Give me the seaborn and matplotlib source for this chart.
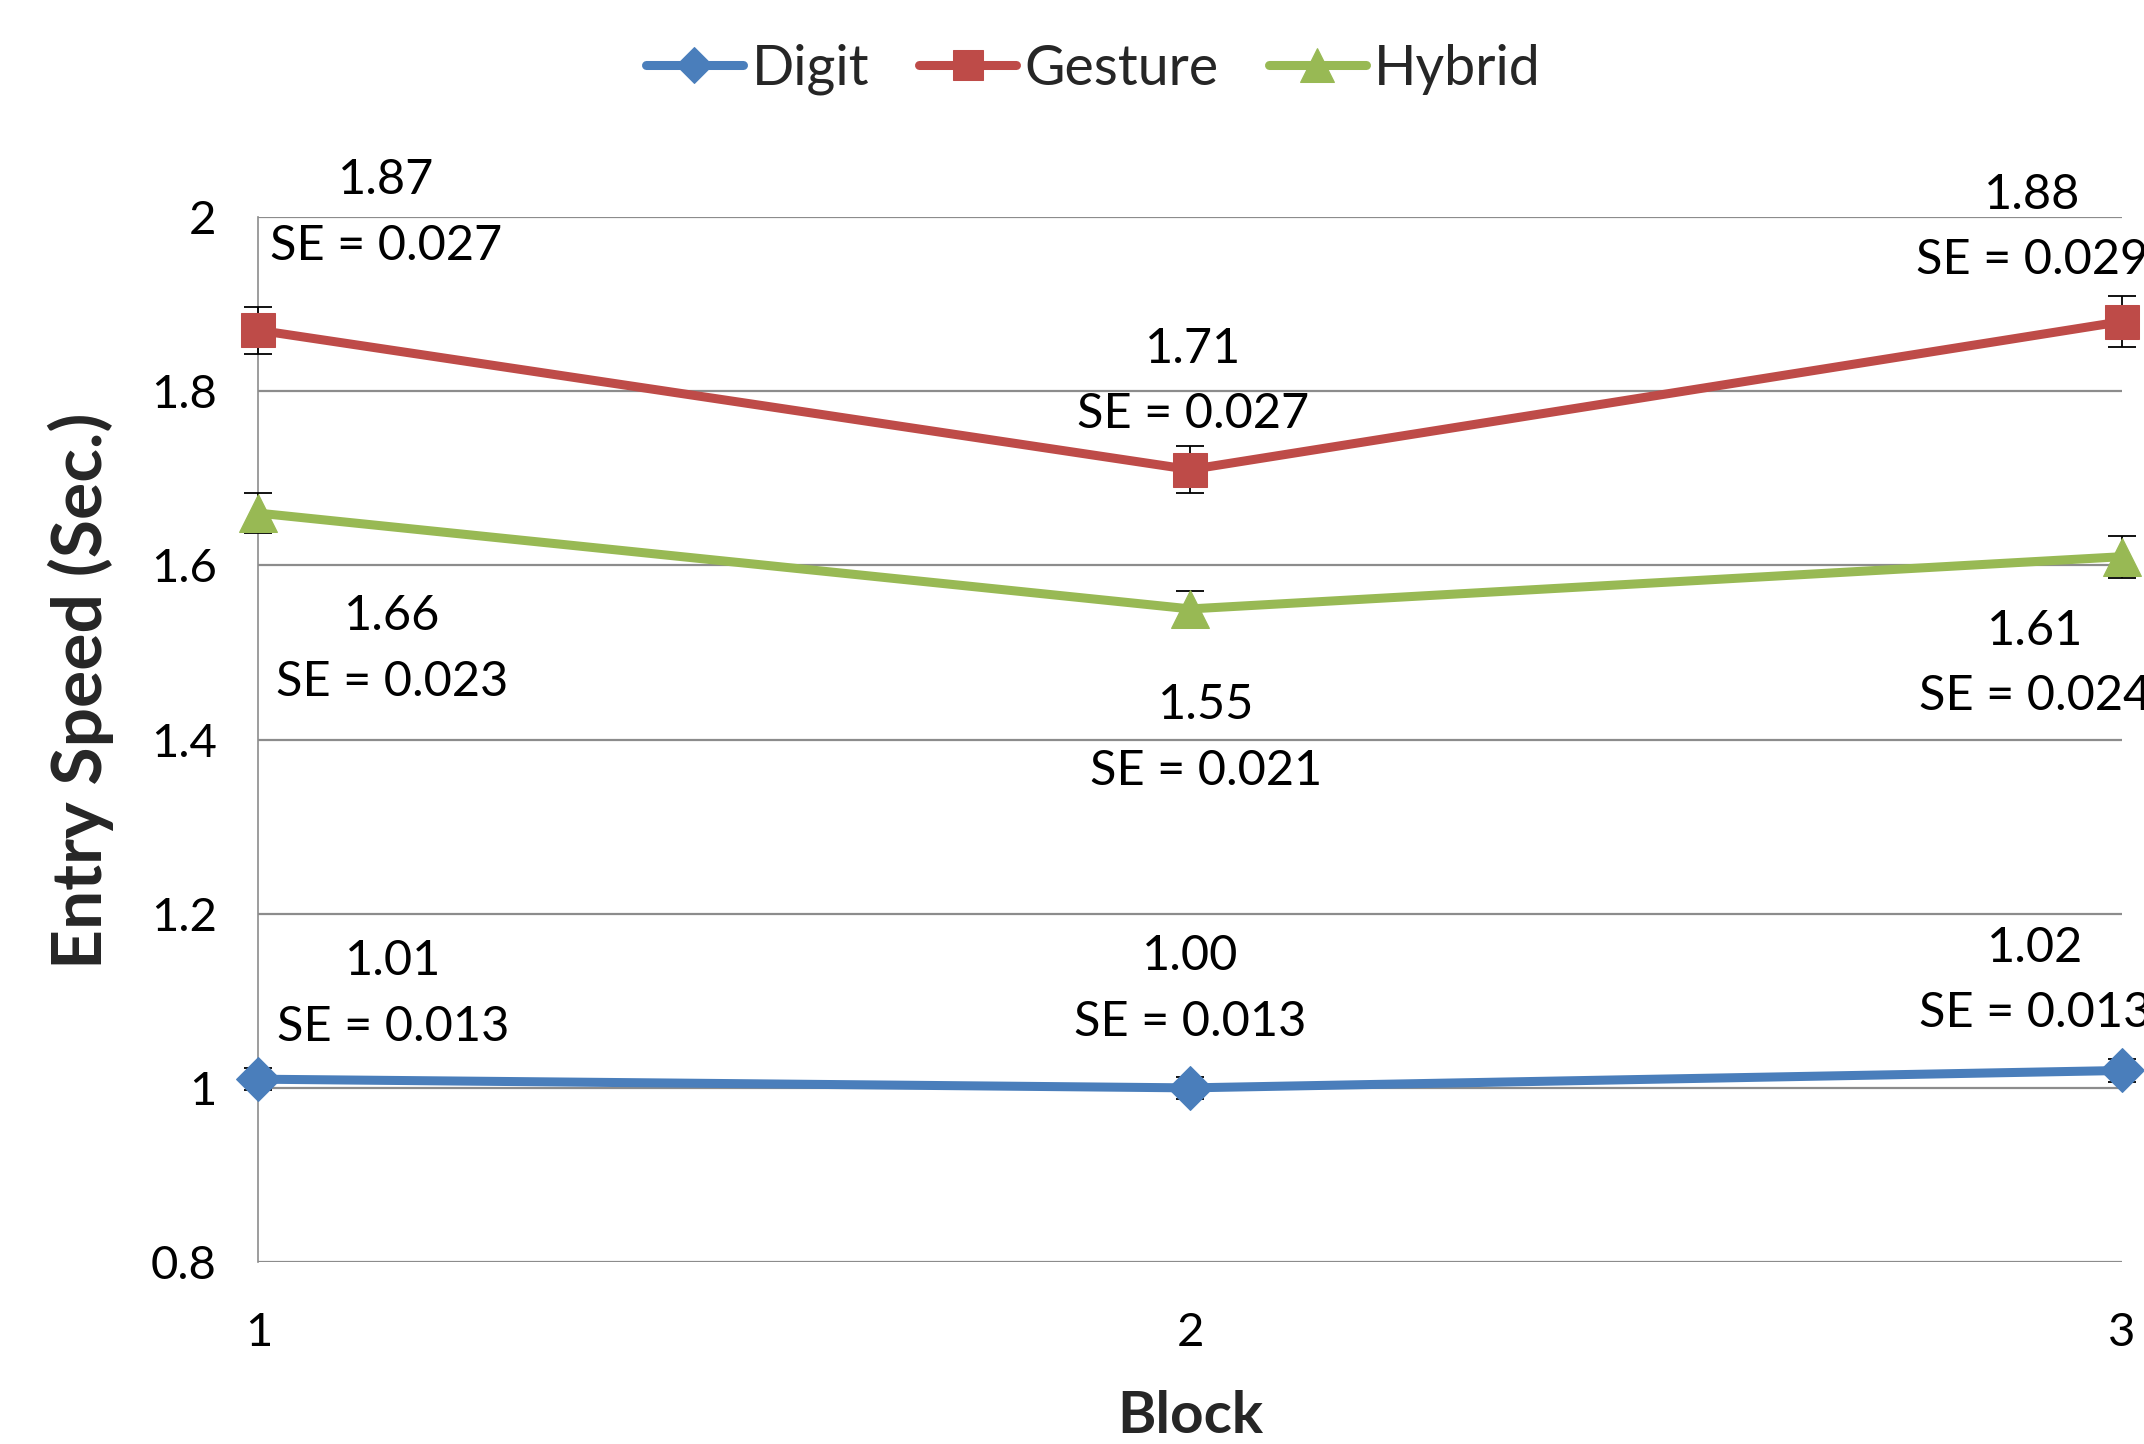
import numpy as np
import pandas as pd
import seaborn as sns
import matplotlib.pyplot as plt
from matplotlib.ticker import FuncFormatter

# data
blocks = [1, 2, 3]
techniques = ["Digit", "Gesture", "Hybrid"]
digit_speed = [1.01, 1.00, 1.02]
digit_se = [0.013, 0.013, 0.013]
gesture_speed = [1.87, 1.71, 1.88]
gesture_se = [0.027, 0.027, 0.029]
hybrid_speed = [1.66, 1.55, 1.61]
hybrid_se = [0.023, 0.021, 0.024]
value_labels = {
    "Digit": ["1.01", "1.00", "1.02"],
    "Gesture": ["1.87", "1.71", "1.88"],
    "Hybrid": ["1.66", "1.55", "1.61"],
}

rows = []
for tech, sp, se in zip(techniques, [digit_speed, gesture_speed, hybrid_speed],
                        [digit_se, gesture_se, hybrid_se]):
    for b, v, e in zip(blocks, sp, se):
        rows.append({"Block": b, "Technique": tech, "Speed": v, "SE": e})
df = pd.DataFrame(rows)

# styles
colors = {"Digit": "#4A7EBB", "Gesture": "#BE4B48", "Hybrid": "#98B954"}
markers = {"Digit": "D", "Gesture": "s", "Hybrid": "^"}
msizes = {"Digit": 22, "Gesture": 25, "Hybrid": 28}
# annotation offsets in pixels (dx, dy) for each point
offsets = {
    "Digit": [(135, 85), (0, 99), (-87, 90)],
    "Gesture": [(128, 117), (3, 88), (-90, 94)],
    "Hybrid": [(134, -136), (16, -129), (-87, -107)],
}

sns.set_theme(style="white")
plt.rcParams['font.family'] = ['Lato', 'DejaVu Sans']

fig = plt.figure(figsize=(21.44, 14.44), dpi=100)
ax = fig.add_axes([0.1205, 0.126, 0.8693, 0.7237])

for tech in techniques:
    sub = df[df["Technique"] == tech]
    ax.errorbar(sub["Block"], sub["Speed"], yerr=sub["SE"], fmt="none",
                ecolor="black", elinewidth=1.3, capsize=10, capthick=1.3,
                zorder=3, clip_on=False)
    sns.lineplot(data=sub, x="Block", y="Speed", ax=ax, color=colors[tech],
                 marker=markers[tech], markersize=msizes[tech],
                 markeredgecolor=colors[tech], linewidth=6.5, label=tech,
                 zorder=4, clip_on=False, legend=False)
    for (b, v), lab, se, (dx, dy) in zip(zip(sub["Block"], sub["Speed"]),
                                         value_labels[tech], sub["SE"], offsets[tech]):
        ax.annotate(f"{lab}\nSE = {se:.3f}", xy=(b, v), xytext=(dx, dy),
                    textcoords="offset pixels", ha="center", va="center",
                    fontsize=35, linespacing=1.6, color="black")

ax.set_xlim(1, 3)
ax.set_ylim(0.8, 2.0)
ax.set_xticks(blocks)
ax.set_yticks(np.arange(0.8, 2.01, 0.2))
ax.yaxis.set_major_formatter(FuncFormatter(lambda v, p: f"{v:g}" if abs(v - round(v)) > 1e-9 else f"{int(round(v))}"))
ax.grid(axis="y", color="#8C8C8C", linewidth=1.6)
ax.grid(axis="x", visible=False)
for s in ["top", "right", "bottom"]:
    ax.spines[s].set_visible(False)
ax.spines["left"].set_color("#8C8C8C")
ax.spines["left"].set_linewidth(1.2)
ax.tick_params(axis="both", length=0, labelsize=34, colors="black")
ax.tick_params(axis="y", pad=30)
ax.tick_params(axis="x", pad=36)
ax.set_xlabel("Block", fontsize=42, fontweight="bold", labelpad=26)
ax.set_ylabel("Entry Speed (Sec.)", fontsize=50, fontweight="bold", va="center")
ax.yaxis.set_label_coords(-0.095, 0.547)

handles, labels = ax.get_legend_handles_labels()
fig.legend(handles, labels, loc="center", bbox_to_anchor=(0.51, 0.952), ncol=3,
           frameon=False, fontsize=40, handlelength=1.75, handletextpad=0.15,
           columnspacing=0.9, markerscale=0.85)

fig.savefig("out.png", dpi=100)
